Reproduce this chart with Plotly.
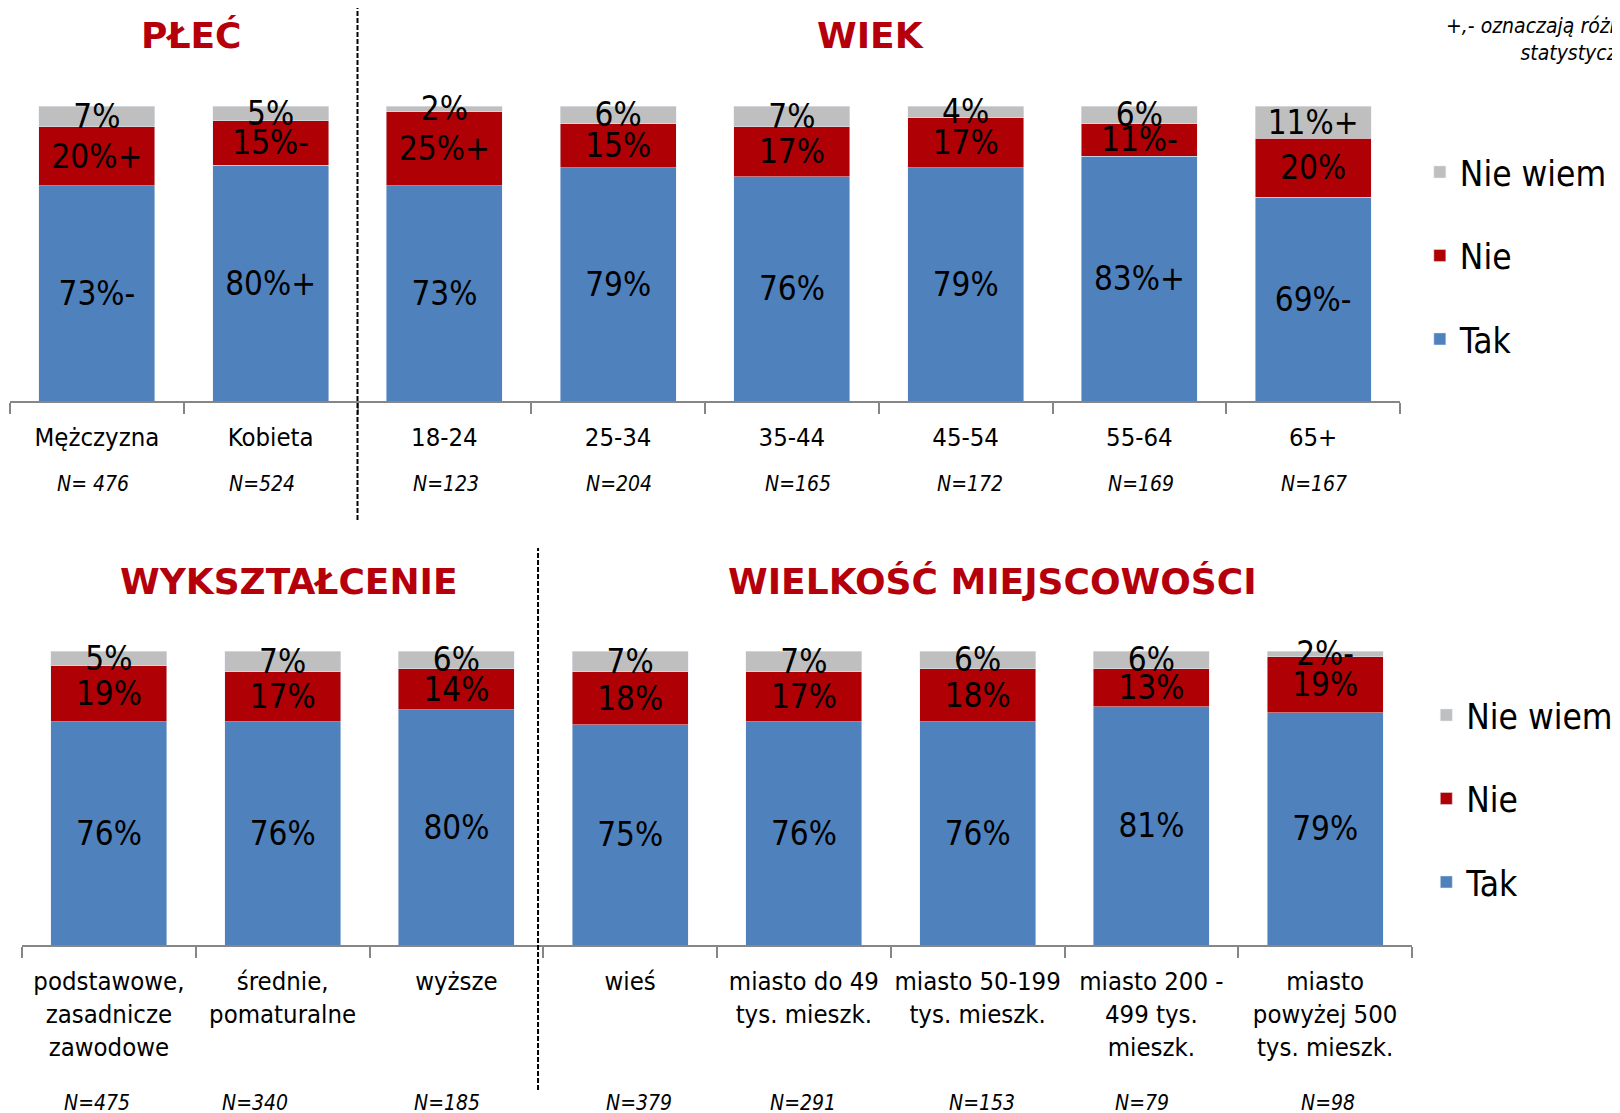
import plotly.graph_objects as go

FONT = "DejaVu Sans Condensed, DejaVu Sans, sans-serif"
BLUE = "#4F81BD"
RED = "#AF0005"
GRAY = "#BFBFBF"
TITLE_RED = "#B5000B"
AXIS = "#868686"

W, H = 1620, 1113
OFF = 8  # margines strony w przegladarce


def fx(p):
    return (p - OFF) / W


def fy(p):
    return 1 - (p - OFF) / H


# --- gorny wykres: plec i wiek ---
top_cats = ["Mężczyzna", "Kobieta", "18-24", "25-34", "35-44", "45-54", "55-64", "65+"]
top_n = ["N= 476", "N=524", "N=123", "N=204", "N=165", "N=172", "N=169", "N=167"]
top_tak = [73, 80, 73, 79, 76, 79, 83, 69]
top_nie = [20, 15, 25, 15, 17, 17, 11, 20]
top_nw = [7, 5, 2, 6, 7, 4, 6, 11]
top_tak_sig = ["-", "+", "", "", "", "", "+", "-"]
top_nie_sig = ["+", "-", "+", "", "", "", "-", ""]
top_nw_sig = ["", "", "", "", "", "", "", "+"]

# --- dolny wykres: wyksztalcenie i wielkosc miejscowosci ---
bot_cats = ["podstawowe,<br>zasadnicze<br>zawodowe", "średnie,<br>pomaturalne", "wyższe",
            "wieś", "miasto do 49<br>tys. mieszk.", "miasto 50-199<br>tys. mieszk.",
            "miasto 200 -<br>499 tys.<br>mieszk.", "miasto<br>powyżej 500<br>tys. mieszk."]
bot_n = ["N=475", "N=340", "N=185", "N=379", "N=291", "N=153", "N=79", "N=98"]
bot_tak = [76, 76, 80, 75, 76, 76, 81, 79]
bot_nie = [19, 17, 14, 18, 17, 18, 13, 19]
bot_nw = [5, 7, 6, 7, 7, 6, 6, 2]
bot_tak_sig = ["", "", "", "", "", "", "", ""]
bot_nie_sig = ["", "", "", "", "", "", "", ""]
bot_nw_sig = ["", "", "", "", "", "", "", "-"]

# przesuniecia etykiet N (jak w oryginale, w px)
top_n_shift = [-4, -9, 2, 1, 6, 4, 2, 1]
bot_n_shift = [-12, -28, -9, 9, -1, 4, -9, 3]

fig = go.Figure()


def add_row(cats, series, xa, ya, legend):
    for rank, (name, vals, sig, color) in enumerate(series):
        fig.add_bar(
            x=cats, y=vals, name=name, xaxis=xa, yaxis=ya,
            marker=dict(color=color),
            text=[f"{v}%{s}" for v, s in zip(vals, sig)],
            textposition="inside", insidetextanchor="middle",
            constraintext="none", textangle=0, cliponaxis=False,
            insidetextfont=dict(family=FONT, size=33, color="black"),
            legend=legend, legendgroup=legend + name, legendrank=10 - rank,
            hoverinfo="skip",
        )


add_row(top_cats, [("Tak", top_tak, top_tak_sig, BLUE),
                   ("Nie", top_nie, top_nie_sig, RED),
                   ("Nie wiem", top_nw, top_nw_sig, GRAY)], "x", "y", "legend")
add_row(bot_cats, [("Tak", bot_tak, bot_tak_sig, BLUE),
                   ("Nie", bot_nie, bot_nie_sig, RED),
                   ("Nie wiem", bot_nw, bot_nw_sig, GRAY)], "x2", "y2", "legend2")

xaxis_style = dict(
    type="category", showline=True, linecolor=AXIS, linewidth=2,
    ticks="outside", tickson="boundaries", ticklen=11, tickwidth=2, tickcolor=AXIS,
    tickfont=dict(family=FONT, size=25.5, color="black"), ticklabelstandoff=12,
    tickangle=0, showgrid=False, zeroline=False, fixedrange=True,
)
yaxis_style = dict(range=[0, 100], visible=False, fixedrange=True)

annotations = []
for cat, n, sh in zip(top_cats, top_n, top_n_shift):
    annotations.append(dict(x=cat, xref="x", y=fy(484), yref="paper", text=f"<i>{n}</i>",
                            showarrow=False, xshift=sh, xanchor="center", yanchor="middle",
                            font=dict(family=FONT, size=21, color="black")))
for cat, n, sh in zip(bot_cats, bot_n, bot_n_shift):
    annotations.append(dict(x=cat, xref="x2", y=fy(1103), yref="paper", text=f"<i>{n}</i>",
                            showarrow=False, xshift=sh, xanchor="center", yanchor="middle",
                            font=dict(family=FONT, size=21, color="black")))

title_font = dict(family="DejaVu Sans, sans-serif", size=36, color=TITLE_RED)
for txt, x, y in [("<b>PŁEĆ</b>", 191, 36), ("<b>WIEK</b>", 871, 36),
                  ("<b>WYKSZTAŁCENIE</b>", 289, 581),
                  ("<b>WIELKOŚĆ MIEJSCOWOŚCI</b>", 992, 581)]:
    annotations.append(dict(x=fx(x), y=fy(y), xref="paper", yref="paper", text=txt,
                            xanchor="center", yanchor="middle",
                            showarrow=False, font=title_font))

annotations.append(dict(x=fx(1444), y=fy(39), xref="paper", yref="paper", xanchor="left",
                        yanchor="middle", align="center", showarrow=False,
                        text="<i>+,- oznaczają różnice istotne<br>statystycznie</i>",
                        font=dict(family=FONT, size=21, color="black")))

shapes = [
    dict(type="line", xref="x", x0=1.5, x1=1.5, yref="paper", y0=fy(520), y1=1,
         line=dict(color="black", width=2, dash="5px,2px")),
    dict(type="line", xref="x2", x0=2.47, x1=2.47, yref="paper", y0=fy(1090), y1=fy(548),
         line=dict(color="black", width=2, dash="5px,2px")),
]

legend_style = dict(
    traceorder="grouped", tracegroupgap=35, bgcolor="rgba(0,0,0,0)",
    font=dict(family=FONT, size=35, color="black"), xanchor="left", yanchor="top",
)

fig.update_layout(
    width=W, height=H,
    margin=dict(l=0, r=0, t=0, b=0, autoexpand=False),
    paper_bgcolor="white", plot_bgcolor="white",
    barmode="stack", bargap=0.333,
    xaxis=dict(domain=[fx(10), fx(1400)], anchor="y", **xaxis_style),
    yaxis=dict(domain=[fy(401), fy(106)], anchor="x", **yaxis_style),
    xaxis2=dict(domain=[fx(22), fx(1412)], anchor="y2", **xaxis_style),
    yaxis2=dict(domain=[fy(945), fy(651)], anchor="x2", **yaxis_style),
    legend=dict(x=0.8715, y=0.8790, **legend_style),
    legend2=dict(x=0.8755, y=0.3911, **legend_style),
    annotations=annotations,
    shapes=shapes,
    showlegend=True,
)

fig.write_html("out.html")
